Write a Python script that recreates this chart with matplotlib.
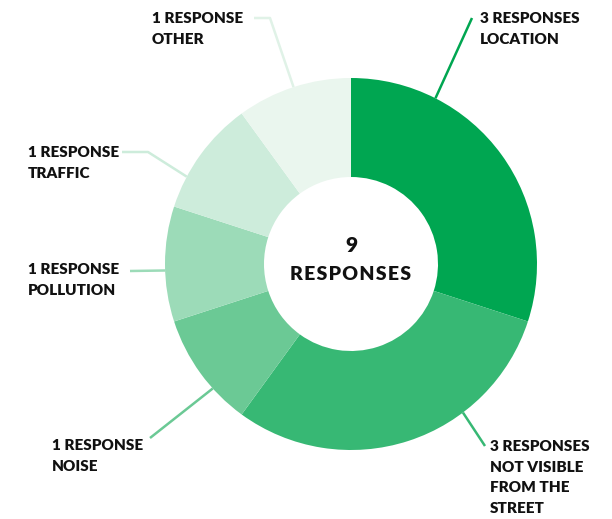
import numpy as np
import matplotlib
matplotlib.use('Agg')
import matplotlib.pyplot as plt

# survey answers, clockwise from 12 o'clock
reasons = ['LOCATION', 'NOT VISIBLE\nFROM THE\nSTREET', 'NOISE', 'POLLUTION', 'TRAFFIC', 'OTHER']
counts = [3, 3, 1, 1, 1, 1]
total_label = '9'
colors = ['#00a651', '#37b874', '#6bc995', '#9cdbb8', '#cdecdb', '#eaf6ee']

W, H = 612, 519
cx, cy, R, r_in = 351, 264, 186, 87

def yy(y):
    # image rows -> data y
    return H - y

fig = plt.figure(figsize=(W/100., H/100.), dpi=100)
ax = fig.add_axes([0, 0, 1, 1])

ax.pie(counts, colors=colors, startangle=90, counterclock=False,
       center=(cx, yy(cy)), radius=R, frame=True,
       wedgeprops=dict(width=R - r_in, linewidth=0))
ax.set_xlim(0, W)
ax.set_ylim(0, H)
ax.set_aspect('equal')
ax.axis('off')

def edge(ang):
    a = np.radians(ang)
    return cx + R*np.cos(a), yy(cy) + R*np.sin(a)

# label text position (left, top of text) and leader path (image coords + edge angle)
layout = [
    dict(xy=(480, 12), path=[(472, 18)], ang=63),
    dict(xy=(490, 440), path=[(485, 446)], ang=-53),
    dict(xy=(52, 439), path=[(150, 438)], ang=222),
    dict(xy=(28, 263), path=[(130, 271)], ang=182),
    dict(xy=(28, 146), path=[(122, 152), (148, 152)], ang=152),
    dict(xy=(152, 12), path=[(254, 18), (270, 18)], ang=108),
]

for n, reason, col, lay in zip(counts, reasons, colors, layout):
    head = '%d RESPONSE%s' % (n, 'S' if n > 1 else '')
    ax.text(lay['xy'][0], yy(lay['xy'][1]), head + '\n' + reason,
            ha='left', va='top', fontsize=11, fontweight='heavy',
            family='Lato', color='#111111', linespacing=1.7)
    xs = [p[0] for p in lay['path']]
    ys = [yy(p[1]) for p in lay['path']]
    ex, ey = edge(lay['ang'])
    xs.append(ex); ys.append(ey)
    lc = col if col != '#eaf6ee' else '#e0f2e7'
    ax.plot(xs, ys, color=lc, linewidth=1.8, solid_capstyle='butt')

ax.text(cx, yy(246), total_label, ha='center', va='center', fontsize=15,
        fontweight='heavy', family='Lato', color='#111111')
ax.text(cx, yy(274), '\u200a'.join('RESPONSES'), ha='center', va='center',
        fontsize=14, fontweight='heavy', family='Lato', color='#111111')

plt.savefig('out.png', dpi=100)
